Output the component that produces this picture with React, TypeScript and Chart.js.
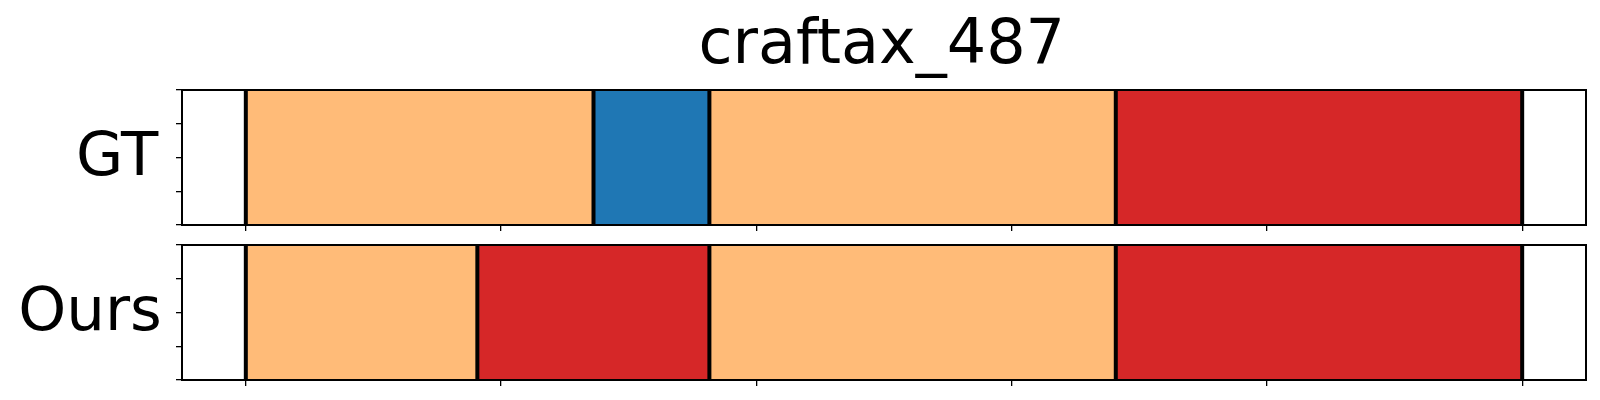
import { useEffect, useRef } from 'react';
import { Chart, registerables } from 'chart.js';

Chart.register(...registerables);

const TITLE = 'craftax_487';
const rowNames = ['GT', 'Ours'];
const xTicks = [0, 100, 200, 300, 400, 500];
const yTicks = [0, 0.25, 0.5, 0.75, 1];
const gtBounds = [0, 136.2, 181.6, 340.8, 500];
const gtClasses = ['A', 'B', 'A', 'C'];
const oursBounds = [0, 90.7, 181.6, 340.8, 500];
const oursClasses = ['A', 'C', 'A', 'C'];
const classColors: Record<string, string> = { A: '#ffbb78', B: '#1f77b4', C: '#d62728' };

const FONT = '"DejaVu Sans", "Liberation Sans", sans-serif';

const panelPlugin = {
  id: 'panel',
  afterDatasetsDraw(chart: any, _args: any, opts: any) {
    const { ctx, chartArea: a, scales } = chart;
    ctx.save();
    ctx.strokeStyle = '#000';
    ctx.lineWidth = 4;
    for (const b of opts.bounds) {
      const x = scales.x.getPixelForValue(b);
      ctx.beginPath();
      ctx.moveTo(x, a.top);
      ctx.lineTo(x, a.bottom);
      ctx.stroke();
    }
    ctx.lineWidth = 2;
    ctx.strokeRect(a.left, a.top, a.right - a.left, a.bottom - a.top);

    ctx.fillStyle = '#000';
    ctx.textBaseline = 'alphabetic';
    ctx.textAlign = 'left';
    ctx.font = `61px ${FONT}`;
    const m = ctx.measureText(opts.label);
    const cy = (a.top + a.bottom) / 2;
    ctx.fillText(opts.label, a.left - 23 - m.actualBoundingBoxRight, cy + 17);

    if (opts.title) {
      ctx.font = `62px ${FONT}`;
      const t = ctx.measureText(opts.title);
      const cx = (a.left + a.right) / 2 - 3;
      ctx.fillText(opts.title, cx - (t.actualBoundingBoxRight - t.actualBoundingBoxLeft) / 2, a.top - 27);
    }
    ctx.restore();
  },
};

function makeConfig(name: string, bounds: number[], classes: string[], padTop: number, padBottom: number, title?: string): any {
  const span = bounds[bounds.length - 1] - bounds[0];
  const xMin = bounds[0] - 0.05 * span;
  const xMax = bounds[bounds.length - 1] + 0.05 * span;
  const datasets = classes.map((c, i) => ({
    data: [[bounds[i], bounds[i + 1]]],
    backgroundColor: classColors[c],
    borderWidth: 0,
    grouped: false,
    barPercentage: 1,
    categoryPercentage: 1,
  }));
  const tickGrid = {
    display: true,
    drawOnChartArea: false,
    drawTicks: true,
    tickLength: 6,
    color: '#000',
    lineWidth: 1.3,
    offset: false,
  };
  return {
    type: 'bar',
    data: { labels: [name], datasets },
    plugins: [panelPlugin],
    options: {
      indexAxis: 'y',
      responsive: false,
      animation: false,
      devicePixelRatio: 1,
      layout: { padding: { left: 176, right: 14, top: padTop, bottom: padBottom } },
      plugins: {
        legend: { display: false },
        tooltip: { enabled: false },
        title: { display: false },
        panel: { bounds, label: name, title },
      },
      scales: {
        x: {
          type: 'linear',
          min: xMin,
          max: xMax,
          offset: false,
          afterBuildTicks: (s: any) => {
            s.ticks = xTicks.map((v) => ({ value: v }));
          },
          ticks: { display: false },
          grid: tickGrid,
          border: { display: false },
        },
        y: {
          type: 'category',
          display: false,
          offset: true,
        },
        yt: {
          type: 'linear',
          position: 'left',
          min: yTicks[0],
          max: yTicks[yTicks.length - 1],
          offset: false,
          afterBuildTicks: (s: any) => {
            s.ticks = yTicks.map((v) => ({ value: v }));
          },
          ticks: { display: false, stepSize: yTicks[1] - yTicks[0] },
          grid: tickGrid,
          border: { display: false },
        },
      },
    },
  };
}

export default function App() {
  const ref1 = useRef<HTMLCanvasElement>(null);
  const ref2 = useRef<HTMLCanvasElement>(null);
  useEffect(() => {
    const c1 = new Chart(ref1.current!, makeConfig(rowNames[0], gtBounds, gtClasses, 90, 169, TITLE));
    const c2 = new Chart(ref2.current!, makeConfig(rowNames[1], oursBounds, oursClasses, 245, 14));
    return () => {
      c1.destroy();
      c2.destroy();
    };
  }, []);
  const cs: any = { position: 'absolute', left: 0, top: 0, width: 1600, height: 400 };
  return (
    <div style={{ position: 'absolute', left: 0, top: 0, width: 1600, height: 400, background: '#fff' }}>
      <canvas ref={ref1} width={1600} height={400} style={cs} />
      <canvas ref={ref2} width={1600} height={400} style={cs} />
    </div>
  );
}
